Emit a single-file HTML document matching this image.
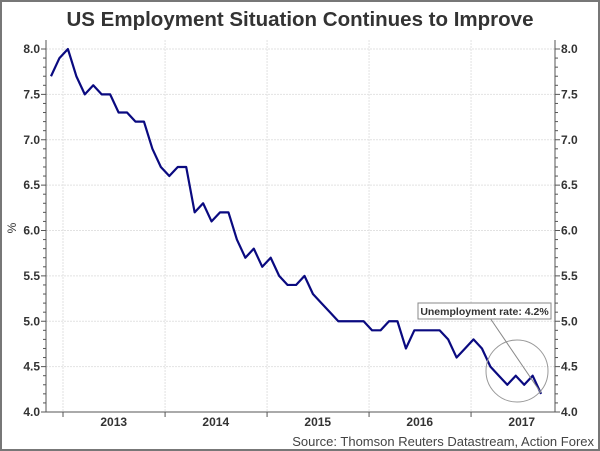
<!DOCTYPE html>
<html><head><meta charset="utf-8"><style>
body{margin:0;background:#fff}
svg{display:block;font-family:"Liberation Sans",sans-serif}
</style></head><body>
<svg id="c" width="600" height="451" viewBox="0 0 600 451">
<rect x="1" y="1" width="598" height="449" fill="#fff" stroke="#777" stroke-width="2"/>
<text x="300" y="26" text-anchor="middle" font-size="20.5" font-weight="bold" fill="#333">US Employment Situation Continues to Improve</text>
<g id="grid"></g><g id="axes"></g><g id="series"></g>
<text transform="translate(16,228) rotate(-90)" text-anchor="middle" font-size="12" fill="#333">%</text>
<text x="594" y="446" text-anchor="end" font-size="13" fill="#444">Source: Thomson Reuters Datastream, Action Forex</text>
<g>
<circle cx="517" cy="371" r="31" fill="none" stroke="#999" stroke-width="1"/>
<line x1="490" y1="318" x2="541" y2="393" stroke="#888" stroke-width="1"/>
<rect x="418" y="303" width="133" height="16" fill="#fff" stroke="#888"/>
<text x="484.5" y="315" text-anchor="middle" font-size="10.5" font-weight="bold" fill="#333">Unemployment rate: 4.2%</text>
</g>
</svg>
<script>
const values=[7.7,7.9,8.0,7.7,7.5,7.6,7.5,7.5,7.3,7.3,7.2,7.2,6.9,6.7,6.6,6.7,6.7,6.2,6.3,6.1,6.2,6.2,5.9,5.7,5.8,5.6,5.7,5.5,5.4,5.4,5.5,5.3,5.2,5.1,5.0,5.0,5.0,5.0,4.9,4.9,5.0,5.0,4.7,4.9,4.9,4.9,4.9,4.8,4.6,4.7,4.8,4.7,4.5,4.4,4.3,4.4,4.3,4.4,4.2];
const yTicks=[4.0,4.5,5.0,5.5,6.0,6.5,7.0,7.5,8.0];
const yearLabels=["2013","2014","2015","2016","2017"];
const yearStarts=[1.42,13.5,25.57,37.64,49.71];
const NS="http://www.w3.org/2000/svg";
const X0=46,X1=555,YT=40,YB=412;
const x=i=>51+i*8.45;
const y=v=>412-(v-4)*90.75;
function mk(t,a,p){const e=document.createElementNS(NS,t);for(const k in a)e.setAttribute(k,a[k]);p.appendChild(e);return e;}
const g=document.getElementById('grid'),ax=document.getElementById('axes'),s=document.getElementById('series');
yTicks.forEach(v=>{
  if(v>4){const l=mk('line',{x1:X0,x2:X1,y1:y(v),y2:y(v),stroke:'#e2e2e2','stroke-dasharray':'2,1'},g);
  
  }
  const a=mk('text',{x:40,y:y(v)+4,'text-anchor':'end','font-size':12,'font-weight':'bold',fill:'#333'},ax);a.textContent=v.toFixed(1);
  
  
  const b=mk('text',{x:561,y:y(v)+4,'font-size':12,'font-weight':'bold',fill:'#333'},ax);b.textContent=v.toFixed(1);
  
  
});
for(let v=4;v<=8.001;v+=0.1){
  const len=Math.abs(v*2-Math.round(v*2))<0.01?5:3;
  mk('line',{x1:X0-len,x2:X0,y1:y(v),y2:y(v),stroke:'#555'},ax);
  mk('line',{x1:X1,x2:X1+len,y1:y(v),y2:y(v),stroke:'#555'},ax);
}
yearStarts.forEach((t,k)=>{
  const l=mk('line',{x1:x(t),x2:x(t),y1:YT,y2:YB,stroke:'#e2e2e2','stroke-dasharray':'2,1'},g);
  
  
  mk('line',{x1:x(t),x2:x(t),y1:YB,y2:YB+5,stroke:'#555'},ax);
  const tx=mk('text',{x:x(t+6),y:426,'text-anchor':'middle','font-size':12,'font-weight':'bold',fill:'#333'},ax);
  tx.textContent=yearLabels[k];
  
  
});
const la=mk('line',{x1:X0,x2:X0,y1:YT,y2:YB,stroke:'#555'},ax);


const ra=mk('line',{x1:X1,x2:X1,y1:YT,y2:YB,stroke:'#555'},ax);


const xa=mk('line',{x1:X0,x2:X1,y1:YB,y2:YB,stroke:'#555'},ax);


const p=mk('polyline',{points:values.map((v,i)=>x(i)+','+y(v)).join(' '),fill:'none',stroke:'#0a0a80','stroke-width':2.2,'stroke-linejoin':'round'},s);


</script>
</body></html>
